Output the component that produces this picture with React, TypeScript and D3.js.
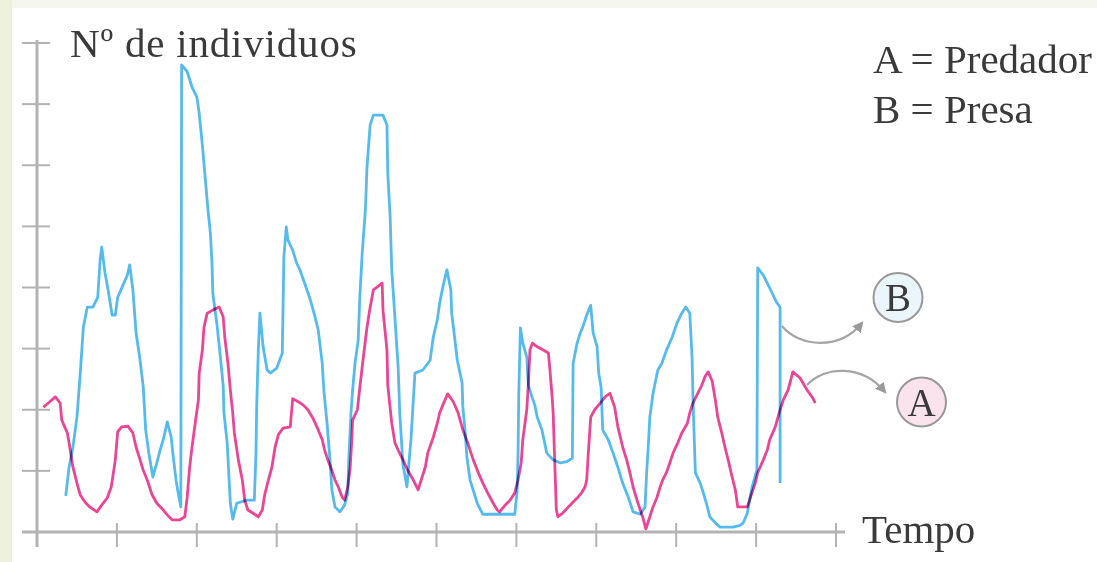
import React from "react";
import * as d3 from "d3";

// Time axis: 10 unlabeled intervals (0..100), count axis: 8 unlabeled intervals (0..80)
const timeTicks = d3.range(0, 101, 10);
const countTicks = d3.range(0, 81, 10);

// B = Presa (prey)
const preyTime = [3.6, 4.0, 4.5, 5.0, 5.4, 5.8, 6.3, 7.0, 7.6, 7.9, 8.1, 8.5, 8.9, 9.4, 9.8, 10.1, 10.6, 11.3, 11.6, 12.0, 12.4, 12.9, 13.3, 13.6, 14.0, 14.5, 15.0, 15.4, 15.8, 16.3, 16.8, 17.0, 17.4, 17.6, 18.0, 18.1, 18.8, 19.4, 20.0, 20.3, 20.7, 21.0, 21.4, 21.7, 21.9, 22.0, 22.5, 22.9, 23.3, 23.4, 23.8, 24.2, 24.5, 25.0, 26.3, 27.2, 27.4, 27.5, 27.7, 27.9, 28.3, 28.8, 29.2, 30.0, 30.7, 30.9, 31.2, 31.4, 32.0, 32.5, 32.9, 33.5, 34.2, 34.8, 35.2, 35.7, 35.9, 36.3, 36.7, 36.9, 37.3, 37.9, 38.5, 38.9, 39.0, 39.3, 39.5, 39.8, 40.2, 40.4, 40.7, 41.1, 41.3, 41.7, 42.1, 43.3, 43.8, 43.9, 44.2, 44.4, 44.8, 45.2, 45.4, 45.8, 46.3, 46.8, 47.3, 48.3, 49.2, 49.6, 50.1, 50.4, 50.8, 51.3, 51.8, 51.9, 52.2, 52.6, 53.2, 53.3, 53.6, 53.8, 54.2, 55.1, 55.8, 59.8, 60.1, 60.2, 60.3, 60.5, 60.8, 61.3, 61.5, 62.0, 62.3, 62.6, 63.2, 63.8, 64.6, 65.5, 66.3, 67.0, 67.1, 67.6, 68.0, 68.3, 68.8, 69.3, 69.6, 70.1, 70.3, 70.6, 70.8, 71.5, 72.1, 72.7, 73.3, 74.0, 74.6, 75.5, 76.1, 76.3, 76.5, 76.7, 77.1, 77.7, 78.2, 78.8, 79.5, 80.1, 80.7, 81.2, 81.7, 82.0, 82.1, 82.4, 83.0, 83.4, 83.9, 84.2, 84.9, 85.5, 87.1, 88.0, 88.4, 88.9, 89.5, 90.1, 90.2, 90.9, 91.4, 92.0, 92.6, 93.0, 93.0];
const preyCount = [5.9, 10.5, 13.9, 18.8, 25.7, 33.5, 36.8, 36.8, 38.4, 44.5, 46.6, 42.5, 39.6, 35.5, 35.5, 38.4, 39.9, 42.0, 43.7, 39.6, 32.6, 28.1, 23.7, 16.7, 12.9, 9.0, 11.3, 13.4, 15.1, 18.0, 15.5, 12.9, 8.5, 6.9, 4.1, 76.4, 75.3, 72.8, 71.2, 68.5, 63.3, 58.7, 52.7, 48.9, 44.0, 39.1, 34.2, 29.3, 24.0, 19.5, 14.6, 4.7, 2.1, 4.7, 5.2, 5.2, 12.6, 20.8, 29.8, 35.8, 30.3, 26.5, 26.0, 26.8, 29.3, 45.0, 49.9, 47.8, 46.1, 44.0, 42.9, 40.7, 38.0, 35.2, 33.0, 27.6, 23.2, 17.8, 11.3, 6.9, 4.1, 3.3, 4.4, 6.4, 11.3, 19.5, 23.2, 27.6, 31.4, 38.4, 45.6, 52.7, 59.7, 66.6, 68.2, 68.2, 66.6, 58.7, 51.5, 42.9, 35.0, 27.0, 19.5, 11.0, 7.4, 15.1, 26.0, 26.5, 28.1, 31.9, 34.7, 37.5, 40.1, 42.9, 39.6, 35.8, 32.6, 28.1, 24.4, 20.4, 16.2, 12.3, 8.5, 4.7, 2.9, 2.9, 6.9, 12.3, 22.7, 33.4, 30.9, 28.6, 24.0, 21.9, 20.8, 18.8, 16.7, 12.9, 11.8, 11.3, 11.5, 12.1, 27.6, 30.9, 32.6, 33.5, 35.5, 37.1, 32.6, 30.3, 26.0, 23.7, 16.7, 15.1, 12.9, 10.6, 8.0, 5.7, 3.3, 2.9, 4.1, 9.7, 13.9, 18.8, 22.7, 26.5, 27.6, 29.8, 31.9, 34.2, 35.8, 36.8, 35.8, 28.1, 21.6, 9.7, 8.0, 6.4, 4.1, 2.5, 1.5, 0.8, 0.8, 1.1, 1.5, 3.1, 7.4, 10.1, 43.2, 42.0, 40.7, 39.1, 37.5, 36.8, 8.0];

// A = Predador (predator)
const predatorTime = [0.8, 1.6, 2.3, 2.9, 3.1, 3.8, 4.1, 4.5, 5.0, 5.4, 6.0, 6.6, 7.5, 8.1, 8.8, 9.3, 9.8, 10.1, 10.6, 11.4, 12.0, 12.4, 12.9, 13.3, 13.8, 14.4, 15.0, 15.6, 16.3, 16.9, 17.9, 18.5, 18.8, 19.1, 19.4, 19.8, 20.2, 20.3, 20.7, 20.9, 21.3, 22.0, 22.8, 23.3, 23.5, 23.9, 24.2, 24.5, 24.7, 25.2, 25.7, 26.0, 26.4, 27.0, 27.7, 28.2, 28.5, 28.9, 29.4, 29.8, 30.2, 30.8, 31.7, 32.0, 32.7, 33.3, 33.9, 34.5, 35.2, 35.7, 36.0, 36.4, 36.9, 37.3, 37.7, 38.2, 38.5, 38.9, 39.2, 39.4, 39.5, 40.1, 40.4, 40.8, 41.3, 41.7, 42.1, 42.6, 43.2, 43.3, 43.8, 43.9, 44.4, 44.8, 45.2, 45.8, 46.4, 47.1, 47.7, 48.2, 48.6, 48.9, 49.6, 50.1, 50.4, 50.8, 51.4, 52.1, 52.7, 53.3, 53.9, 54.6, 55.2, 55.8, 56.4, 57.1, 57.6, 57.9, 58.6, 59.2, 59.8, 60.2, 60.6, 60.8, 61.3, 61.5, 61.7, 62.0, 62.6, 63.3, 64.0, 64.2, 64.5, 64.6, 64.8, 65.0, 65.2, 65.8, 66.5, 67.1, 67.7, 68.2, 68.6, 68.8, 69.0, 69.3, 69.8, 70.5, 71.1, 71.7, 72.3, 72.7, 73.3, 73.8, 74.2, 74.6, 75.1, 75.5, 75.8, 76.2, 76.7, 77.1, 77.6, 78.0, 78.3, 78.8, 79.2, 79.6, 80.2, 80.7, 81.4, 81.7, 82.1, 82.7, 83.2, 83.6, 84.0, 84.5, 84.9, 85.2, 85.7, 86.1, 86.5, 87.0, 87.4, 87.7, 88.9, 89.5, 89.9, 90.2, 90.9, 91.4, 91.7, 92.4, 93.0, 93.4, 94.0, 94.6, 95.5, 96.4, 97.1, 97.4];
const predatorCount = [20.4, 21.3, 22.1, 21.1, 18.3, 16.2, 13.9, 10.6, 8.0, 6.1, 4.9, 4.1, 3.3, 4.4, 5.6, 7.4, 11.8, 16.4, 17.2, 17.3, 16.2, 13.9, 11.8, 10.1, 8.5, 6.1, 4.7, 3.9, 2.8, 2.0, 2.0, 2.5, 5.7, 10.5, 13.9, 17.8, 21.6, 26.0, 29.8, 33.5, 35.8, 36.3, 36.8, 35.2, 31.9, 27.6, 23.2, 19.5, 16.2, 11.8, 8.5, 5.2, 3.6, 3.1, 2.5, 3.6, 6.1, 8.2, 10.6, 13.9, 15.9, 17.0, 17.2, 21.8, 21.3, 20.8, 20.0, 18.7, 16.7, 15.1, 13.4, 11.8, 10.1, 8.5, 7.4, 5.7, 5.2, 7.4, 10.6, 15.1, 18.3, 20.0, 23.6, 28.1, 33.5, 36.8, 39.6, 40.1, 40.7, 36.3, 29.8, 24.0, 17.8, 14.6, 13.4, 11.8, 10.1, 8.5, 6.9, 9.0, 10.6, 12.9, 15.5, 17.8, 19.5, 20.8, 22.6, 21.3, 19.5, 16.7, 14.6, 11.8, 9.8, 8.0, 6.4, 4.7, 3.6, 3.3, 4.4, 5.2, 6.4, 8.5, 11.3, 15.1, 20.0, 24.4, 29.8, 30.9, 30.3, 29.8, 29.3, 26.5, 21.6, 19.5, 11.3, 3.6, 2.5, 3.1, 4.1, 4.9, 5.7, 6.5, 7.4, 8.5, 12.9, 18.8, 20.0, 21.1, 22.1, 22.7, 20.4, 17.2, 13.9, 11.8, 9.7, 7.4, 5.2, 3.6, 2.5, 0.5, 2.5, 4.1, 5.7, 7.4, 8.5, 9.8, 11.3, 12.9, 14.6, 16.2, 17.8, 19.5, 21.1, 22.7, 24.0, 25.4, 26.2, 24.7, 21.6, 18.8, 16.2, 13.9, 11.8, 9.0, 6.9, 4.1, 4.1, 6.5, 8.0, 9.7, 11.8, 13.4, 15.1, 17.2, 20.0, 21.6, 23.2, 26.2, 25.2, 23.2, 21.9, 21.1];

const yLabel = "Nº de individuos";
const xLabel = "Tempo";
const legendLines = ["A = Predador", "B = Presa"];

const W = 1097;
const H = 562;

export default function App() {
  const x = d3.scaleLinear().domain([0, 100]).range([37, 836]);
  const y = d3.scaleLinear().domain([0, 80]).range([532, 43]);

  const prey = preyTime.map((t, i) => [t, preyCount[i]] as [number, number]);
  const predator = predatorTime.map((t, i) => [t, predatorCount[i]] as [number, number]);
  const line = d3
    .line<[number, number]>()
    .x((d) => x(d[0]))
    .y((d) => y(d[1]));

  const font = "'Liberation Serif', 'Times New Roman', serif";
  const axisColor = "#b3b3b3";
  const textColor = "#3a3a3a";

  return (
    <svg
      width={W}
      height={H}
      style={{ position: "absolute", left: 0, top: 0, display: "block" }}
    >
      <rect x={0} y={0} width={W} height={H} fill="#ffffff" />
      <rect x={0} y={0} width={W} height={8} fill="#f6f7ec" />
      <rect x={0} y={0} width={12} height={H} fill="#eef1dc" />

      {/* axes */}
      <line x1={x(0)} x2={x(0)} y1={y(80) - 3} y2={547} stroke={axisColor} strokeWidth={3} />
      <line x1={22} x2={845} y1={y(0)} y2={y(0)} stroke={axisColor} strokeWidth={3} />
      {countTicks.map((v) => (
        <line key={"yt" + v} x1={22} x2={50} y1={y(v)} y2={y(v)} stroke={axisColor} strokeWidth={2} />
      ))}
      {timeTicks.map((t) => (
        <line key={"xt" + t} x1={x(t)} x2={x(t)} y1={523} y2={547} stroke={axisColor} strokeWidth={2} />
      ))}

      {/* series */}
      <path d={line(prey) || ""} fill="none" stroke="#55bbee" strokeWidth={2.8} strokeLinejoin="round" />
      <path
        d={line(predator) || ""}
        fill="none"
        stroke="#ec4595"
        strokeWidth={2.8}
        strokeLinejoin="round"
        style={{ mixBlendMode: "multiply" }}
      />

      {/* labels */}
      <text x={70} y={57} fontFamily={font} fontSize={41} letterSpacing={0.8} fill={textColor}>
        {yLabel}
      </text>
      <text x={862} y={543} fontFamily={font} fontSize={41} fill={textColor}>
        {xLabel}
      </text>
      {legendLines.map((s, i) => (
        <text key={s} x={873} y={73 + i * 50} fontFamily={font} fontSize={41} fill={textColor}>
          {s}
        </text>
      ))}

      {/* callouts */}
      <defs>
        <marker id="ah" viewBox="0 0 10 10" refX="8" refY="5" markerWidth="5" markerHeight="5" orient="auto">
          <path d="M0,0 L10,5 L0,10 z" fill="#9a9a9a" />
        </marker>
      </defs>
      <path d="M782,326 C800,348 840,350 862,323" fill="none" stroke="#a5a5a5" strokeWidth={2.2} markerEnd="url(#ah)" />
      <path d="M807,385 C825,366 862,364 885,392" fill="none" stroke="#a5a5a5" strokeWidth={2.2} markerEnd="url(#ah)" />

      <circle cx={898} cy={297.5} r={24.5} fill="#eaf5fc" stroke="#999" strokeWidth={2} />
      <text x={898} y={311} textAnchor="middle" fontFamily={font} fontSize={39} fill={textColor}>
        B
      </text>
      <circle cx={921.5} cy={402} r={24.5} fill="#fbe3ee" stroke="#999" strokeWidth={2} />
      <text x={921.5} y={416} textAnchor="middle" fontFamily={font} fontSize={39} fill={textColor}>
        A
      </text>
    </svg>
  );
}
